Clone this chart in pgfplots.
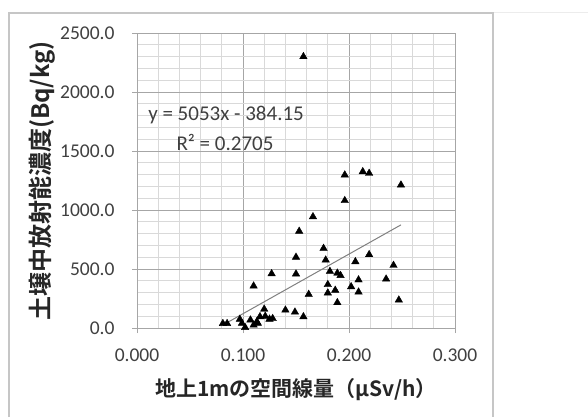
\documentclass[border=0pt]{standalone}
\usepackage{pgfplots}
\pgfplotsset{compat=1.18}
\usepackage{fontspec}
\setmainfont{Carlito}
\newfontfamily\jp{Noto Sans CJK JP}[BoldFont={* Bold}]
\definecolor{ticktxt}{HTML}{404040}
\definecolor{majgrid}{HTML}{A6A6A6}
\definecolor{mingrid}{HTML}{D9D9D9}
\definecolor{trend}{HTML}{808080}
\pgfplotstableread{
x y
0.157 2300
0.196 1297
0.213 1325
0.219 1311
0.249 1212
0.196 1080
0.166 943
0.153 820
0.176 675
0.219 622
0.150 600
0.178 576
0.206 562
0.242 531
0.182 480
0.127 460
0.150 458
0.189 465
0.192 445
0.235 415
0.209 408
0.110 356
0.180 368
0.202 350
0.187 320
0.180 297
0.209 305
0.162 285
0.189 215
0.247 237
0.140 152
0.149 135
0.157 96
0.120 160
0.128 80
0.116 96
0.121 100
0.081 38
0.085 38
0.097 74
0.099 40
0.102 5
0.107 68
0.110 25
0.113 53
0.114 40
0.125 75
}\datatable
\begin{document}
\begin{tikzpicture}[x=1pt,y=1pt]
\useasboundingbox (0,0) rectangle (588,-417);
\fill[white] (0,0) rectangle (588,-417);
\draw[gray!15, line width=1pt] (493,-13) -- (588,-13);
\draw[gray!45, line width=1.5pt] (9,-417) -- (9,-13) -- (493,-13) -- (493,-417);
\begin{axis}[
  at={(137pt,-328pt)}, anchor=south west,
  scale only axis, width=318pt, height=295pt,
  xmin=0, xmax=0.3, ymin=0, ymax=2500,
  xtick={0,0.1,0.2,0.3}, ytick={0,500,1000,1500,2000,2500},
  minor x tick num=4, minor y tick num=4,
  grid=both,
  major grid style={draw=majgrid, line width=0.9pt},
  minor grid style={draw=mingrid, line width=0.8pt},
  axis lines*=left,
  axis line style={draw=majgrid, line width=0.9pt},
  tick align=outside,
  major tick length=5pt, minor tick length=0pt,
  tick style={draw=majgrid, line width=0.9pt},
  /pgf/number format/assume math mode=true,
  ticklabel style={font=\fontsize{19.5}{22}\selectfont, text=ticktxt},
  x tick label style={/pgf/number format/.cd, fixed, fixed zerofill, precision=3, 1000 sep={}},
  y tick label style={/pgf/number format/.cd, fixed, fixed zerofill, precision=1, 1000 sep={}},
  xticklabel shift=12pt,
  yticklabel shift=14pt,
  clip=false,
]
\addplot[only marks, mark=triangle*, mark size=4.3pt, mark options={fill=black, draw=black}] table[x=x, y=y] {\datatable};
\addplot[trend, line width=1pt] coordinates {(0.081,25.1) (0.249,874.0)};
\node[text=ticktxt, font=\fontsize{21}{24}\selectfont] at (axis cs:0.084,1805) {y = 5053x - 384.15};
\node[text=ticktxt, font=\fontsize{21}{24}\selectfont] at (axis cs:0.083,1568) {R² = 0.2705};
\end{axis}
\node[text=black!85, font=\jp\bfseries\fontsize{21}{24}\selectfont] at (296,-390) {地上1mの空間線量（µSv/h）};
\node[text=black!85, rotate=90, font=\jp\bfseries\fontsize{24}{27}\selectfont] at (42,-181) {土壌中放射能濃度(Bq/kg)};
\end{tikzpicture}
\end{document}
